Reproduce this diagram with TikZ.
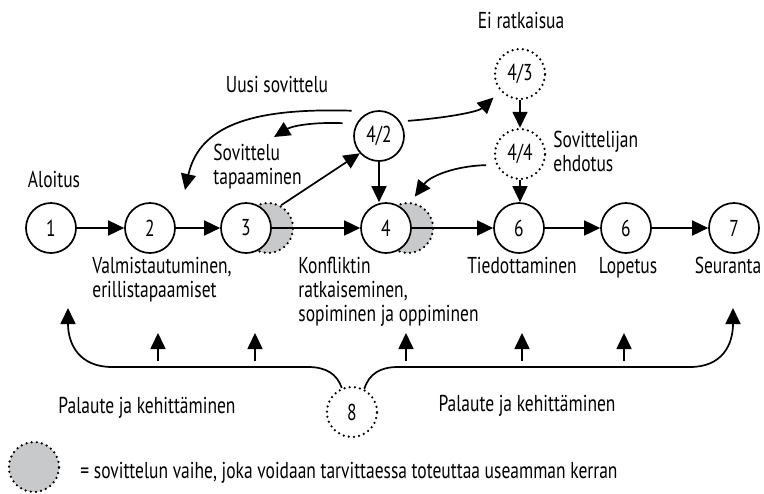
\documentclass[tikz,border=0pt]{standalone}
\usepackage{fontspec}
\setmainfont[FakeStretch=0.76]{PT Sans}
\usetikzlibrary{arrows.meta}

\definecolor{shade}{RGB}{200,201,203}

\tikzset{
  lbl/.style={font=\fontsize{11.5}{12}\selectfont, inner sep=0pt, text=black},
  stage/.style={circle, draw, line width=0.85pt, fill=white, minimum size=25pt,
    inner sep=0pt, font=\fontsize{11.5}{12}\selectfont},
  dots/.style={line width=1.25pt, line cap=round, dash pattern=on 0pt off 2.6pt},
  optstage/.style={stage, dots},
  repeatable/.style={circle, dots, draw, fill=shade, minimum size=25pt, inner sep=0pt},
  flow/.style={line width=0.85pt, -{Triangle[length=8pt,width=7.5pt]}},
  feedback/.style={line width=0.85pt},
}

\begin{document}
\begin{tikzpicture}[x=0.5pt, y=-0.5pt]
\path[use as bounding box] (0,0) rectangle (764,493);

% repeatable parts of stages 3 and 4, behind the stage circles
\node[repeatable] (g3) at (268,228) {};
\node[repeatable] (g4) at (408,228) {};

% main process
\node[stage] (n1)  at (51,228)  {1};
\node[stage] (n2)  at (150,228) {2};
\node[stage] (n3)  at (246,228) {3};
\node[stage] (n4)  at (386,228) {4};
\node[stage] (n6a) at (519,228) {6};
\node[stage] (n6b) at (626,228) {6};
\node[stage] (n7)  at (734,228) {7};

% side branch
\node[stage]    (n42) at (379,136) {4/2};
\node[optstage] (n43) at (520,74)  {4/3};
\node[optstage] (n44) at (520,154) {4/4};
\node[optstage] (n8)  at (352,412) {8};

% legend symbol
\node[repeatable] (leg) at (34,467) {};

% labels (multi-line labels are placed by the baseline of their last line)
\node[lbl, anchor=base] (tA) at (54,187) {Aloitus};
\node[lbl, anchor=base] (tU) at (277,92) {Uusi sovittelu};
\node[lbl, anchor=base west, align=left] (tS) at (213,184) {Sovittelu\\tapaaminen};
\node[lbl, anchor=base] (tE) at (521,28) {Ei ratkaisua};
\node[lbl, anchor=base west, align=left] (tH) at (553,171) {Sovittelijan\\ehdotus};
\node[lbl, anchor=base west, align=left] (tV) at (92,297) {Valmistautuminen,\\erillistapaamiset};
\node[lbl, anchor=base west, align=left] (tK) at (298,321) {Konfliktin\\ratkaiseminen,\\sopiminen ja oppiminen};
\node[lbl, anchor=base] (tT) at (522,273) {Tiedottaminen};
\node[lbl, anchor=base] (tL) at (628,273) {Lopetus};
\node[lbl, anchor=base] (tR) at (728,273) {Seuranta};
\node[lbl, anchor=base] (tP1) at (147,413) {Palaute ja kehittäminen};
\node[lbl, anchor=base] (tP2) at (527,411) {Palaute ja kehittäminen};
\node[lbl, anchor=base west] (tLeg) at (80,478) {= sovittelun vaihe, joka voidaan tarvittaessa toteuttaa useamman kerran};

% free ends of the curved arrows
\coordinate (newTip) at (185,190);
\coordinate (sovTip) at (274,137);
\coordinate (fbL) at (68,308);
\coordinate (fbR) at (733,308);

% main flow
\draw[flow] (n1) -- (n2);
\draw[flow] (n2) -- (n3);
\draw[flow] (n3) -- (n4);
\draw[flow] (n4) -- (n6a);
\draw[flow] (n6a) -- (n6b);
\draw[flow] (n6b) -- (n7);

% branch flows
\draw[flow] (g3.60) -- (n42.222);
\draw[flow] (n42.south) -- (n42.south |- n4.north);
\draw[flow] (n43) -- (n44);
\draw[flow] (n44) -- (n44 |- n6a.north);
\draw[flow] ([shift={(-9,-7)}]n42.135) .. controls (260,108) and (200,122) .. (newTip);
\draw[flow] ([shift={(-12,-4)}]n42.160) .. controls (312,122) and (292,126) .. (sovTip);
\draw[flow] ([shift={(6,-3)}]n42.28) .. controls (445,118) and (478,112) .. ([shift={(-8,5)}]n43.225);
\draw[flow] ([shift={(-9,3)}]n44.198) .. controls (455,166) and (430,176) .. ([shift={(0,-6)}]g4.75);

% feedback loop
\draw[feedback, -{Triangle[length=8pt,width=7.5pt]}]
  (n8.113) .. controls (337,374) and (326,367) .. (308,367) -- (112,367)
  .. controls (80,367) and (68,345) .. (fbL);
\draw[feedback, -{Triangle[length=8pt,width=7.5pt]}]
  (n8.62) .. controls (369,374) and (380,367) .. (398,367) -- (690,367)
  .. controls (722,367) and (733,345) .. (fbR);

% feedback inputs to the stages
\foreach \x [count=\i] in {158,255,406,522,624} {
  \coordinate (fbIn\i) at (\x,361);
  \coordinate (fbOut\i) at (\x,333);
  \draw[flow] (fbIn\i) -- (fbOut\i);
}
\end{tikzpicture}
\end{document}
